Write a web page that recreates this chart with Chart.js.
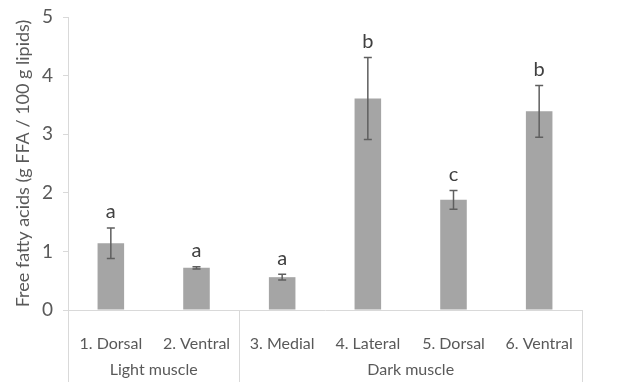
<!DOCTYPE html>
<html>
<head>
<meta charset="utf-8">
<script src="https://cdn.jsdelivr.net/npm/chart.js@4"></script>
<style>
  html, body { margin: 0; padding: 0; background: #fff; }
  #wrap { width: 626px; height: 382px; }
</style>
</head>
<body>
<div id="wrap"><canvas id="c" width="626" height="382"></canvas></div>
<script>
// Sample positions within the fillet
const categories = ['1. Dorsal', '2. Ventral', '3. Medial', '4. Lateral', '5. Dorsal', '6. Ventral'];
// Muscle type groups: [label, first index, last index]
const groupNames = ['Light muscle', 'Dark muscle'];
const groupStarts = [0, 2];
const groupEnds = [1, 5];
// Free fatty acid content (g FFA / 100 g lipids), mean and standard deviation
const ffaMean = [1.14, 0.72, 0.56, 3.61, 1.88, 3.39];
const ffaSd = [0.26, 0.02, 0.05, 0.70, 0.16, 0.44];
// Significance letters
const sigLetters = ['a', 'a', 'a', 'b', 'c', 'b'];
const yTicks = [0, 1, 2, 3, 4, 5];

const FONT = 'Lato, "Liberation Sans", sans-serif';
const TEXT = '#595959';
const AXIS = '#d9d9d9';

// Error bars and significance letters drawn from the y scale
const errorBars = {
  id: 'errorBars',
  afterDatasetsDraw(chart) {
    const { ctx, scales: { x, y } } = chart;
    ctx.save();
    ctx.strokeStyle = '#5f5f5f';
    ctx.lineWidth = 1.5;
    ffaMean.forEach((m, i) => {
      const cx = x.getPixelForValue(i);
      const top = y.getPixelForValue(m + ffaSd[i]);
      const bot = y.getPixelForValue(m - ffaSd[i]);
      ctx.beginPath();
      ctx.moveTo(cx, top); ctx.lineTo(cx, bot);
      ctx.moveTo(cx - 4, top); ctx.lineTo(cx + 4, top);
      ctx.moveTo(cx - 4, bot); ctx.lineTo(cx + 4, bot);
      ctx.stroke();
      ctx.fillStyle = '#404040';
      ctx.font = '20px ' + FONT;
      ctx.textAlign = 'center';
      ctx.textBaseline = 'middle';
      ctx.fillText(sigLetters[i], cx, top - 16);
    });
    ctx.restore();
  }
};

// Group separators and group labels under the category labels
const groupAxis = {
  id: 'groupAxis',
  afterDraw(chart) {
    const { ctx, chartArea, scales: { x } } = chart;
    const half = (x.getPixelForValue(1) - x.getPixelForValue(0)) / 2;
    const bottom = chart.height;
    ctx.save();
    ctx.strokeStyle = AXIS;
    ctx.lineWidth = 1;
    ctx.font = '16px ' + FONT;
    ctx.fillStyle = TEXT;
    ctx.textAlign = 'center';
    ctx.textBaseline = 'middle';
    groupNames.forEach((g, k) => {
      const l = x.getPixelForValue(groupStarts[k]) - half;
      const r = x.getPixelForValue(groupEnds[k]) + half;
      [l, r].forEach(px => {
        const p = Math.round(px) + 0.5;
        ctx.beginPath();
        ctx.moveTo(p, chartArea.bottom);
        ctx.lineTo(p, bottom);
        ctx.stroke();
      });
      ctx.fillText(g, (l + r) / 2, chartArea.bottom + 60);
    });
    ctx.restore();
  }
};

new Chart(document.getElementById('c'), {
  type: 'bar',
  data: {
    labels: categories,
    datasets: [{
      data: ffaMean,
      backgroundColor: '#a5a5a5',
      borderWidth: 0,
      categoryPercentage: 1,
      barPercentage: 0.31
    }]
  },
  options: {
    responsive: false,
    animation: false,
    events: [],
    layout: { padding: { top: 17, right: 44, left: 0, bottom: 0 } },
    plugins: { legend: { display: false }, tooltip: { enabled: false } },
    scales: {
      x: {
        grid: { display: false },
        border: { display: true, color: AXIS, width: 1 },
        ticks: { color: TEXT, font: { family: FONT, size: 16 }, padding: 16, maxRotation: 0 },
        afterFit(scale) { scale.height = 72; }
      },
      y: {
        min: 0, max: 5,
        afterBuildTicks(scale) { scale.ticks = yTicks.map(v => ({ value: v })); },
        grid: { drawOnChartArea: false, drawTicks: true, tickLength: 5, color: AXIS },
        border: { display: true, color: AXIS, width: 1 },
        ticks: { color: TEXT, font: { family: FONT, size: 19 }, padding: 10 },
        title: {
          display: true,
          text: 'Free fatty acids (g FFA / 100 g lipids)',
          color: TEXT,
          font: { family: FONT, size: 18 },
          padding: { top: 12, bottom: 0 }
        },
        afterFit(scale) {
          scale.width = 68;
          scale.paddingTop = 0;
          scale.paddingBottom = 0;
        }
      }
    }
  },
  plugins: [errorBars, groupAxis]
});
</script>
</body>
</html>
